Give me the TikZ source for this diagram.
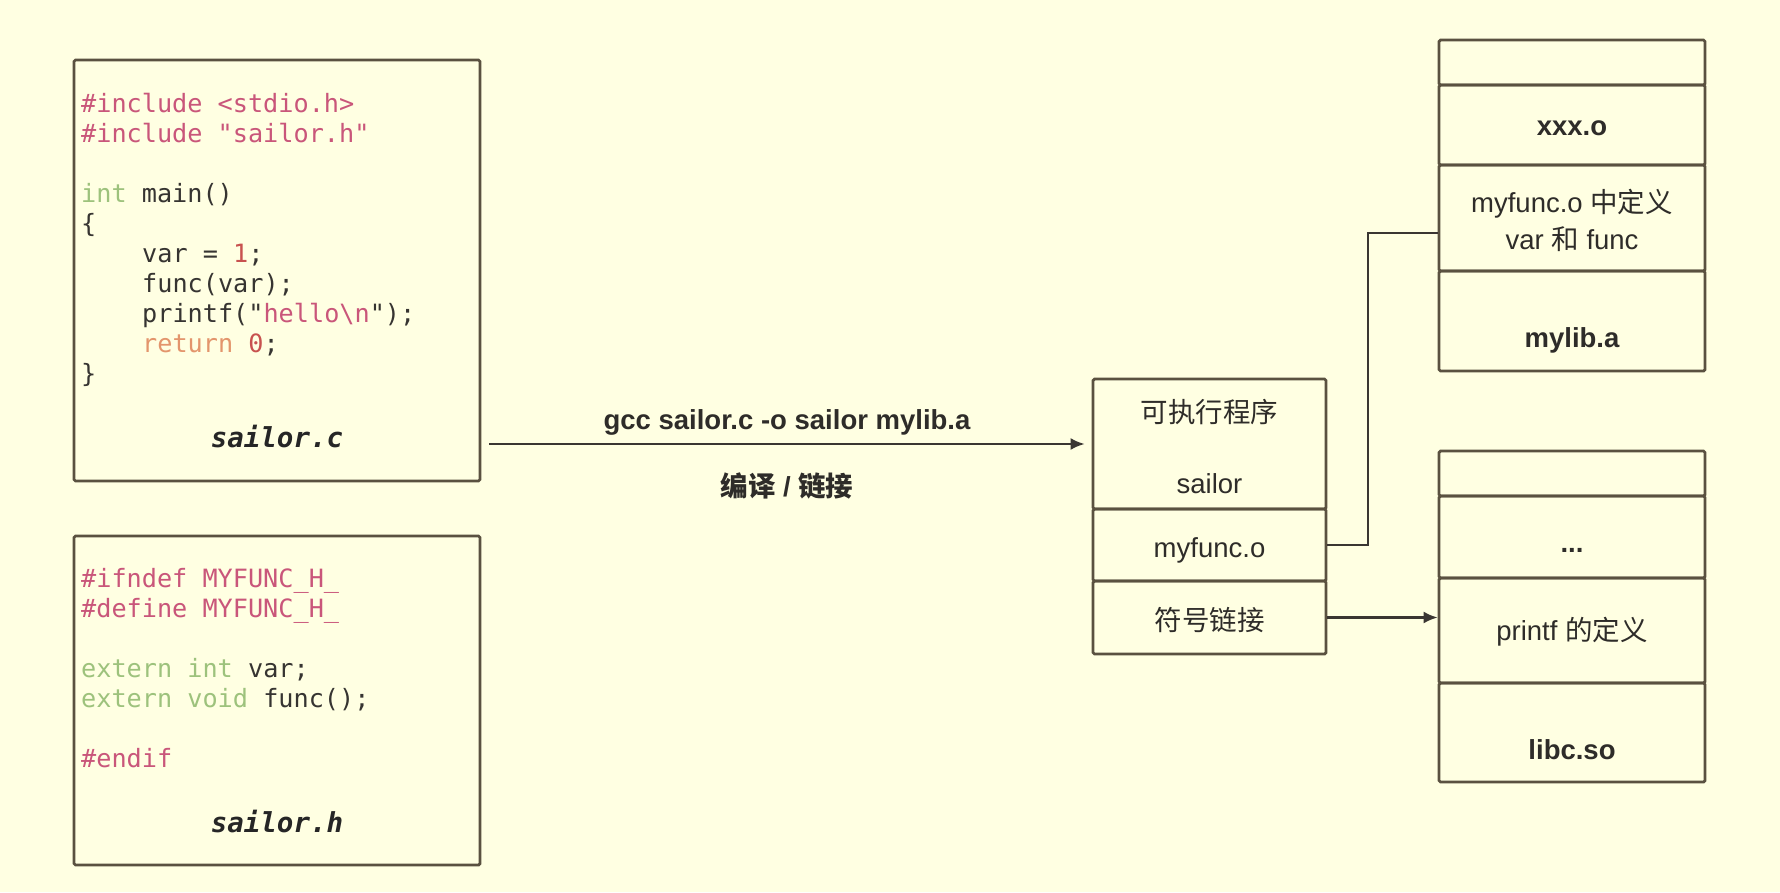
\documentclass[tikz,border=0pt]{standalone}
\usepackage{fontspec}
\setmainfont{Liberation Sans}
\newfontfamily\codefont{DejaVu Sans Mono}[ItalicFont={DejaVu Sans Mono Oblique},BoldFont={DejaVu Sans Mono Bold},BoldItalicFont={DejaVu Sans Mono Bold Oblique}]
\newfontfamily\cjk{Noto Sans CJK SC}
\usetikzlibrary{arrows.meta}
\definecolor{bg}{HTML}{FFFFE2}
\definecolor{frame}{HTML}{5A5140}
\definecolor{wire}{HTML}{3A3632}
\definecolor{txt}{HTML}{2E2C29}
\definecolor{codetxt}{HTML}{363431}
\definecolor{pp}{HTML}{C9567A}
\definecolor{kw}{HTML}{9DC27C}
\definecolor{ret}{HTML}{E3956C}
\definecolor{num}{HTML}{C8524F}
\begin{document}
\begin{tikzpicture}[x=1pt,y=-1pt,
  box/.style={draw=frame,line width=2.8pt,rounded corners=1.5pt,inner sep=0pt},
  cell/.style={box,minimum width=233pt,align=center,text=txt,font=\fontsize{27.5}{33}\selectfont},
  rcell/.style={cell,minimum width=266pt},
  lab/.style={inner sep=0pt,text=txt,font=\fontsize{27.5}{33}\selectfont,align=center},
  blab/.style={lab,font=\fontsize{27.5}{33}\selectfont\bfseries},
  code/.style={anchor=base west,inner sep=0pt,text=codetxt,font=\codefont\fontsize{25.2}{30}\selectfont},
  fname/.style={anchor=base,inner sep=0pt,text=black!85,font=\codefont\bfseries\itshape\fontsize{27.5}{30}\selectfont},
  wireline/.style={draw=wire,line width=2.3pt},
  tip/.style={-{Latex[length=14pt,width=12pt]}}]
\fill[bg] (0,0) rectangle (1780,892);
\useasboundingbox (0,0) rectangle (1780,892);

% sailor.c
\node[box,minimum width=406pt,minimum height=421pt] (srcc) at (277,270.5) {};
\node[code] (c1) at (81,112) {\color{pp}\#include <stdio.h>};
\node[code] (c2) at (81,142) {\color{pp}\#include "sailor.h"};
\node[code] (c3) at (81,202) {{\color{kw}int} main()};
\node[code] (c4) at (81,232) {\{};
\node[code] (c5) at (142,262) {var = {\color{num}1};};
\node[code] (c6) at (142,292) {func(var);};
\node[code] (c7) at (142,322) {printf("{\color{pp}hello\textbackslash n}");};
\node[code] (c8) at (142,352) {{\color{ret}return} {\color{num}0};};
\node[code] (c9) at (81,382) {\}};
\node[fname] (nc) at (277,447) {sailor.c};

% sailor.h
\node[box,minimum width=406pt,minimum height=329pt] (srch) at (277,700.5) {};
\node[code] (h1) at (81,587) {\color{pp}\#ifndef MYFUNC\_H\_};
\node[code] (h2) at (81,617) {\color{pp}\#define MYFUNC\_H\_};
\node[code] (h3) at (81,677) {{\color{kw}extern int} var;};
\node[code] (h4) at (81,707) {{\color{kw}extern void} func();};
\node[code] (h5) at (81,767) {\color{pp}\#endif};
\node[fname] (nh) at (277,832) {sailor.h};

% executable
\node[cell,minimum height=130pt] (exe) at (1209.5,444) {};
\node[lab] (et) at (1209.5,447) {{\cjk 可执行程序}\\[38pt]sailor};
\node[cell,minimum height=72pt] (myf) at (1209.5,545) {};
\node[lab] (mf) at (1209.5,550) {myfunc.o};
\node[cell,minimum height=73pt] (sym) at (1209.5,617.5) {};
\node[lab] (st) at (1209.5,620) {\cjk 符号链接};

% mylib.a
\node[rcell,minimum height=45pt] (m0) at (1572,62.5) {};
\node[rcell,minimum height=80pt] (m1) at (1572,125) {};
\node[blab] (mx) at (1572,128.5) {xxx.o};
\node[rcell,minimum height=106pt] (m2) at (1572,218) {};
\node[lab] (md) at (1572,220) {myfunc.o {\cjk 中定义}\\[4pt]var {\cjk 和} func};
\node[rcell,minimum height=100pt] (m3) at (1572,321) {};
\node[blab] (mt) at (1572,340) {mylib.a};

% libc.so
\node[rcell,minimum height=45pt] (l0) at (1572,473.5) {};
\node[rcell,minimum height=82pt] (l1) at (1572,537) {};
\node[blab] (ld) at (1572,550) {...};
\node[rcell,minimum height=105pt] (l2) at (1572,630.5) {};
\node[lab] (lp) at (1572,632) {printf {\cjk 的定义}};
\node[rcell,minimum height=99pt] (l3) at (1572,732.5) {};
\node[blab] (lt) at (1572,750) {libc.so};

% main arrow
\draw[wireline,tip] ([xshift=8pt]srcc.east |- exe.west) -- ([xshift=-7pt]exe.west)
  node[midway,yshift=22pt,blab] (cmd) {gcc sailor.c -o sailor mylib.a}
  node[midway,yshift=-42pt,blab] (cl) {{\cjk\bfseries 编译} / {\cjk\bfseries 链接}};

% connectors
\coordinate (jn) at (1368,233);
\draw[wireline] (myf.east) -| (jn) -- (jn -| m2.west);
\draw[wireline,tip] (sym.east) -- (sym.east -| l2.west);
\end{tikzpicture}
\end{document}
